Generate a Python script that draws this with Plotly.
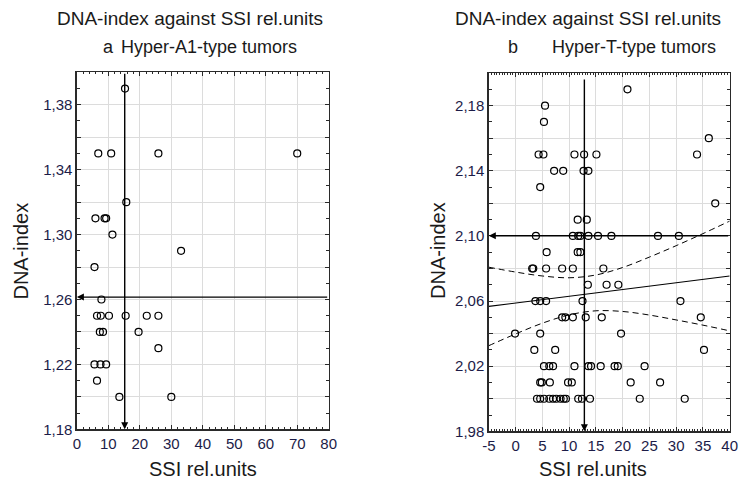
import plotly.graph_objects as go

# ---------------- data ----------------
# Panel a: Hyper-A1-type tumors
ssi_a = [15.3, 6.8, 10.9, 25.9, 70.0, 15.7, 5.9, 8.8, 9.3, 11.3, 33.1, 5.6,
         7.8, 6.4, 7.6, 10.2, 15.5, 22.2, 25.9, 7.3, 8.3, 19.6, 25.9,
         5.6, 7.5, 9.3, 6.4, 13.5, 30.0]
dna_a = [1.39, 1.35, 1.35, 1.35, 1.35, 1.32, 1.31, 1.31, 1.31, 1.30, 1.29, 1.28,
         1.26, 1.25, 1.25, 1.25, 1.25, 1.25, 1.25, 1.24, 1.24, 1.24, 1.23,
         1.22, 1.22, 1.22, 1.21, 1.20, 1.20]
mean_ssi_a = 15.2
mean_dna_a = 1.2615

# Panel b: Hyper-T-type tumors
ssi_b = [20.9, 5.5, 5.3, 36.1,
         4.3, 5.2, 11.0, 12.8, 15.1, 33.9,
         7.2, 8.9, 12.7, 13.6,
         4.6, 37.3, 11.6, 13.3,
         3.8, 10.7, 11.7, 12.1, 13.6, 15.4, 17.9, 26.6, 30.5,
         5.8, 11.6, 12.1,
         3.1, 3.3, 5.7, 8.7, 10.7, 16.4,
         13.5, 17.0, 19.2,
         3.7, 4.6, 5.7, 12.5, 30.8,
         8.7, 9.3, 10.7, 13.1, 16.1, 34.6,
         -0.1, 4.6, 19.7,
         3.5, 7.4, 35.2,
         5.3, 6.3, 7.0, 11.0, 13.6, 14.1, 15.9, 18.5, 19.1, 24.1,
         4.6, 4.9, 6.4, 9.8, 10.5, 21.5, 27.0,
         4.0, 4.6, 5.3, 6.3, 7.0, 7.6, 8.4, 9.0, 9.4, 11.7, 12.4, 13.9, 23.2, 31.6]
dna_b = [2.19, 2.18, 2.17, 2.16,
         2.15, 2.15, 2.15, 2.15, 2.15, 2.15,
         2.14, 2.14, 2.14, 2.14,
         2.13, 2.12, 2.11, 2.11,
         2.10, 2.10, 2.10, 2.10, 2.10, 2.10, 2.10, 2.10, 2.10,
         2.09, 2.09, 2.09,
         2.08, 2.08, 2.08, 2.08, 2.08, 2.08,
         2.07, 2.07, 2.07,
         2.06, 2.06, 2.06, 2.06, 2.06,
         2.05, 2.05, 2.05, 2.05, 2.05, 2.05,
         2.04, 2.04, 2.04,
         2.03, 2.03, 2.03,
         2.02, 2.02, 2.02, 2.02, 2.02, 2.02, 2.02, 2.02, 2.02, 2.02,
         2.01, 2.01, 2.01, 2.01, 2.01, 2.01, 2.01,
         2.00, 2.00, 2.00, 2.00, 2.00, 2.00, 2.00, 2.00, 2.00, 2.00, 2.00, 2.00, 2.00, 2.00]
mean_ssi_b = 12.85
mean_dna_b = 2.1001

# regression line and its confidence band
fit_x = [-5, 0, 5, 10, 15, 20, 25, 30, 35, 40]
fit_y = [2.0567, 2.0588, 2.0609, 2.0629, 2.0650, 2.0671, 2.0692, 2.0712, 2.0733, 2.0754]
band_hi = [2.0808, 2.0778, 2.0754, 2.0743, 2.0760, 2.0806, 2.0870, 2.0940, 2.1014, 2.1091]
band_lo = [2.0326, 2.0398, 2.0464, 2.0515, 2.0540, 2.0536, 2.0514, 2.0484, 2.0452, 2.0417]

# tick labels
xtick_a = [0, 10, 20, 30, 40, 50, 60, 70, 80]
ytick_a = [1.18, 1.20, 1.22, 1.24, 1.26, 1.28, 1.30, 1.32, 1.34, 1.36, 1.38, 1.40]
ylab_a = ["1,18", "", "1,22", "", "1,26", "", "1,30", "", "1,34", "", "1,38", ""]
xtick_b = [-5, 0, 5, 10, 15, 20, 25, 30, 35, 40]
ytick_b = [1.98, 2.00, 2.02, 2.04, 2.06, 2.08, 2.10, 2.12, 2.14, 2.16, 2.18, 2.20]
ylab_b = ["1,98", "", "2,02", "", "2,06", "", "2,10", "", "2,14", "", "2,18", ""]

title_main = "DNA-index against SSI rel.units"
sub_a = "Hyper-A1-type tumors"
sub_b = "Hyper-T-type tumors"

# ---------------- figure ----------------
W, H = 747, 488
TICKFONT = dict(family="Liberation Sans, Arial, sans-serif", size=15, color="#1c1c48")
TITLEFONT = dict(family="Liberation Sans, Arial, sans-serif", size=19, color="#1a1a1a")
GRID = "#dcdcdc"
FRAME = "#2a2a2a"

fig = go.Figure()

mk = dict(symbol="circle-open", size=7, color="black", line=dict(width=1.2, color="black"))
fig.add_trace(go.Scatter(x=ssi_a, y=dna_a, mode="markers", marker=mk, xaxis="x", yaxis="y",
                         showlegend=False))

dash_line = dict(color="black", width=1, dash="6px,4px", shape="spline")
fig.add_trace(go.Scatter(x=fit_x, y=band_hi, mode="lines", line=dash_line,
                         xaxis="x2", yaxis="y2", showlegend=False))
fig.add_trace(go.Scatter(x=fit_x, y=band_lo, mode="lines", line=dash_line,
                         xaxis="x2", yaxis="y2", showlegend=False))
fig.add_trace(go.Scatter(x=fit_x, y=fit_y, mode="lines", line=dict(color="black", width=1.2),
                         xaxis="x2", yaxis="y2", showlegend=False))
fig.add_trace(go.Scatter(x=ssi_b, y=dna_b, mode="markers", marker=mk, xaxis="x2", yaxis="y2",
                         showlegend=False))


def px_x(p):
    return p / W


def px_y(p):
    return 1 - p / H


common_axis = dict(showline=True, linecolor=FRAME, linewidth=1.5, mirror="ticks",
                   ticks="inside", ticklen=4, tickcolor=FRAME, showgrid=True, gridcolor=GRID,
                   gridwidth=1, zeroline=False, tickfont=TICKFONT, fixedrange=True)

fig.update_layout(
    width=W, height=H, margin=dict(l=0, r=0, t=0, b=0),
    paper_bgcolor="white", plot_bgcolor="white", showlegend=False,
    xaxis=dict(common_axis, domain=[px_x(71.3), px_x(328.3)], range=[0, 80], anchor="y",
               tickmode="array", tickvals=xtick_a, ticktext=[str(v) for v in xtick_a],
               minor=dict(dtick=2, ticks="inside", ticklen=2, tickcolor=FRAME, showgrid=False)),
    yaxis=dict(common_axis, domain=[px_y(436.5), px_y(73.5)], range=[1.18, 1.40], anchor="x",
               tickmode="array", tickvals=ytick_a, ticktext=ylab_a,
               minor=dict(dtick=0.01, tick0=1.18, ticks="inside", ticklen=3, tickcolor=FRAME, showgrid=False)),
    xaxis2=dict(common_axis, domain=[px_x(491.7), px_x(737.5)], range=[-5, 40], anchor="y2",
                tickmode="array", tickvals=xtick_b, ticktext=[str(v) for v in xtick_b],
                minor=dict(dtick=0.5, tick0=-5, ticks="inside", ticklen=2, tickcolor=FRAME, showgrid=False)),
    yaxis2=dict(common_axis, domain=[px_y(438.5), px_y(74.3)], range=[1.98, 2.20], anchor="x2",
                tickmode="array", tickvals=ytick_b, ticktext=ylab_b,
                minor=dict(dtick=0.01, tick0=1.98, ticks="inside", ticklen=3, tickcolor=FRAME, showgrid=False)),
)

# mean (profile) lines with arrowheads
arrow = dict(text="", showarrow=True, arrowhead=2, arrowsize=1, arrowwidth=1.4, arrowcolor="black")
fig.add_annotation(arrow, x=mean_ssi_a, y=1.18, ax=mean_ssi_a, ay=1.40, xref="x", yref="y",
                   axref="x", ayref="y")
fig.add_annotation(arrow, x=0, y=mean_dna_a, ax=80, ay=mean_dna_a, xref="x", yref="y",
                   axref="x", ayref="y")
fig.add_annotation(arrow, x=mean_ssi_b, y=1.98, ax=mean_ssi_b, ay=2.197, xref="x2", yref="y2",
                   axref="x2", ayref="y2")
fig.add_annotation(arrow, x=-5, y=mean_dna_b, ax=40, ay=mean_dna_b, xref="x2", yref="y2",
                   axref="x2", ayref="y2")


# titles
def txt(s, xpx, ypx, font, xanchor="center", angle=0):
    fig.add_annotation(text=s, x=px_x(xpx), y=px_y(ypx), xref="paper", yref="paper",
                       showarrow=False, xanchor=xanchor, yanchor="middle", font=font,
                       textangle=angle)


sub_font = dict(TITLEFONT, size=18)
txt(title_main, 187, 19, TITLEFONT)
txt("a", 104, 48, sub_font)
txt(sub_a, 114, 48, sub_font, xanchor="left")
txt(title_main, 593, 19, TITLEFONT)
txt("b", 516, 48, sub_font)
txt(sub_b, 554, 48, sub_font, xanchor="left")

axis_font = dict(family="Liberation Sans, Arial, sans-serif", size=20, color="#1a1a1a")
txt("SSI rel.units", 200, 477, axis_font)
txt("SSI rel.units", 598, 477, axis_font)
txt("DNA-index", 14, 255, axis_font, angle=-90)
txt("DNA-index", 440, 255, axis_font, angle=-90)

fig.write_html("out.html", config={"displayModeBar": False, "staticPlot": True},
               post_script="document.body.style.margin='0px';")
